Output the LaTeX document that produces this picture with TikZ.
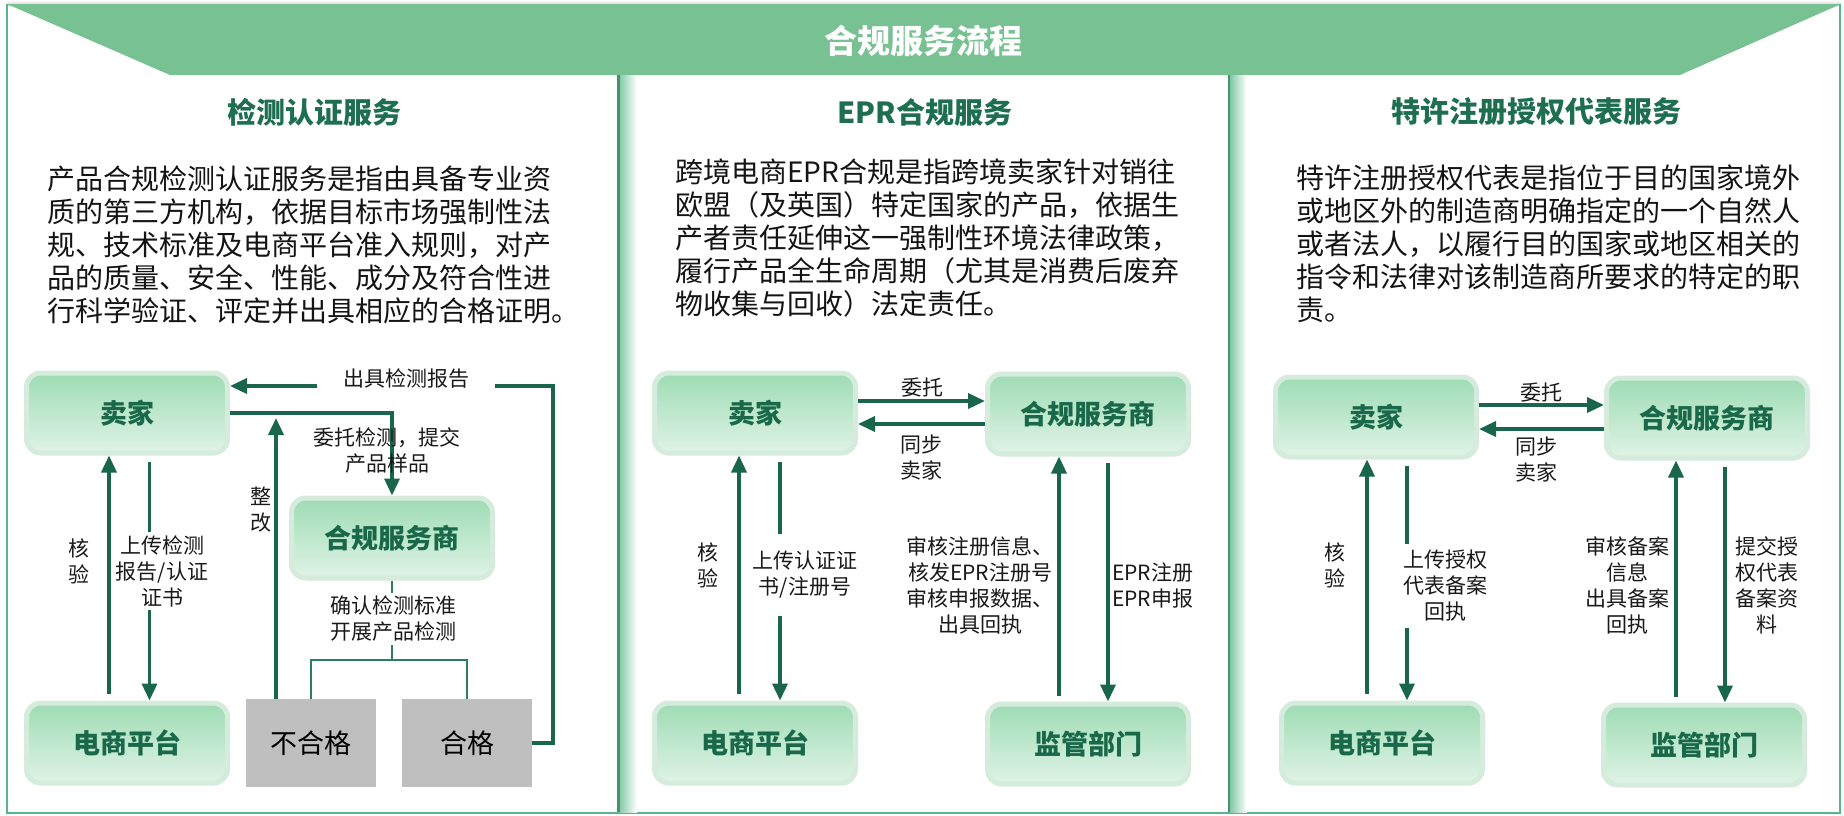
\documentclass[tikz,border=0pt]{standalone}
\usepackage{fontspec}
\setmainfont{Noto Sans CJK SC}
\usetikzlibrary{arrows.meta}
\definecolor{bannerc}{RGB}{120,193,146}
\definecolor{panelline}{RGB}{88,183,137}
\definecolor{titlegreen}{RGB}{30,110,80}
\definecolor{nodegreen}{RGB}{26,104,74}
\definecolor{arrowc}{RGB}{25,102,76}
\definecolor{boxtop}{RGB}{158,220,180}
\definecolor{boxbot}{RGB}{224,243,231}
\definecolor{boxborder}{RGB}{213,236,221}
\definecolor{grayfill}{RGB}{191,191,191}
\definecolor{brline}{RGB}{45,125,95}
\begin{document}
\begin{tikzpicture}[x=1pt,y=-1pt,
  box/.style={rounded corners=14pt, draw=boxborder, line width=5pt, top color=boxtop, bottom color=boxbot, minimum width=201pt, minimum height=80pt, inner sep=0pt, text=nodegreen, font=\fontsize{27}{30}\selectfont\bfseries},
  graybox/.style={fill=grayfill, minimum width=130pt, minimum height=88pt, inner sep=0pt, font=\fontsize{27}{30}\selectfont},
  arr/.style={draw=arrowc, line width=3.5pt, -{Triangle[length=17pt,width=15pt]}},
  brl/.style={draw=brline, line width=2pt},
  lab/.style={font=\fontsize{21}{26}\selectfont, align=center, inner sep=1pt, text=black!90},
  labw/.style={lab, fill=white},
  para/.style={font=\fontsize{28}{33}\selectfont, align=left, anchor=north west, inner sep=0pt, text=black!92},
  ptitle/.style={font=\fontsize{29}{32}\selectfont\bfseries, text=titlegreen},
]
\useasboundingbox (0,0) rectangle (1844,815);
\fill[white] (0,0) rectangle (1844,815);
% top shadow and banner
\shade[top color=white, bottom color=black!18] (7,0) rectangle (1841,5);
\fill[bannerc] (7,4) -- (1841,4) -- (1680,75) -- (170,75) -- cycle;
\node[font=\fontsize{33}{36}\selectfont\bfseries, text=white] (maintitle) at (923,41) {合规服务流程};
% panel frame
\draw[panelline, line width=2.5pt] (7,4) -- (7,813) -- (1840,813) -- (1840,4);
\shade[left color=panelline!75, right color=white] (619,75) rectangle (637,812);
\draw[panelline!80!black, line width=3pt] (618,75) -- (618,812);
\shade[left color=panelline!75, right color=white] (1230,75) rectangle (1247,812);
\draw[panelline!80!black, line width=2.5pt] (1229,75) -- (1229,812);
% panel titles
\node[ptitle] (t1) at (314,112) {检测认证服务};
\node[ptitle] (t2) at (925,112) {EPR合规服务};
\node[ptitle] (t3) at (1536,112) {特许注册授权代表服务};
% paragraphs
\node[para] (d1) at (47,166) {产品合规检测认证服务是指由具备专业资\\质的第三方机构，依据目标市场强制性法\\规、技术标准及电商平台准入规则，对产\\品的质量、安全、性能、成分及符合性进\\行科学验证、评定并出具相应的合格证明。};
\node[para] (d2) at (675,159) {跨境电商EPR合规是指跨境卖家针对销往\\欧盟（及英国）特定国家的产品，依据生\\产者责任延伸这一强制性环境法律政策，\\履行产品全生命周期（尤其是消费后废弃\\物收集与回收）法定责任。};
\node[para] (d3) at (1296,165) {特许注册授权代表是指位于目的国家境外\\或地区外的制造商明确指定的一个自然人\\或者法人，以履行目的国家或地区相关的\\指令和法律对该制造商所要求的特定的职\\责。};

% ---------- panel 1 ----------
\node[box] (p1s) at (127,413) {卖家};
\node[box] (p1e) at (127,743) {电商平台};
\node[box] (p1c) at (392,538) {合规服务商};
\node[graybox] (p1n) at (311,743) {不合格};
\node[graybox] (p1y) at (467,743) {合格};
\coordinate (p1z) at (276,418);
\coordinate (p1b) at (392,660);
\draw[arr] (p1y.east) -| (553,386) -- ([yshift=27pt]p1s.east);
\node[labw, inner xsep=26pt, inner ysep=6pt] (l1a) at (406,379) {出具检测报告};
\draw[arr] (p1s.east) -| (p1c.north);
\node[lab] (l1b) at (387,450) {委托检测，提交\\产品样品};
\draw[arr] ([xshift=-35pt]p1n.north) -- (p1z);
\node[lab] (l1c) at (261,510) {整\\改};
\draw[arr, shorten <=7pt] ([xshift=-18pt]p1e.north) -- ([xshift=-18pt]p1e.north |- p1s.south);
\node[lab] (l1d) at (79,561) {核\\验};
\draw[arr, shorten <=6pt] ([xshift=22.5pt]p1s.south) -- ([xshift=22.5pt]p1s.south |- p1e.north);
\node[labw, inner ysep=3pt] (l1e) at (162,571) {上传检测\\报告/认证\\证书};
\draw[brl] (p1c.south) -- (p1b);
\draw[brl] (p1n.north) |- (p1b) -| (p1y.north);
\node[labw, inner ysep=3pt] (l1f) at (393,619) {确认检测标准\\开展产品检测};

% ---------- panel 2 ----------
\node[box] (p2s) at (755,413) {卖家};
\node[box] (p2c) at (1088,414) {合规服务商};
\node[box] (p2e) at (755,743) {电商平台};
\node[box] (p2m) at (1088,744) {监管部门};
\draw[arr] ([yshift=12pt]p2s.east) -- ([yshift=12pt]p2s.east -| p2c.west);
\node[lab] (l2a) at (922,388) {委托};
\draw[arr] ([yshift=-10pt]p2c.west) -- ([yshift=-10pt]p2c.west -| p2s.east);
\node[lab] (l2b) at (921,458) {同步\\卖家};
\draw[arr, shorten <=7pt] ([xshift=-16pt]p2e.north) -- ([xshift=-16pt]p2e.north |- p2s.south);
\node[lab] (l2c) at (708,565) {核\\验};
\draw[arr, shorten <=6pt] ([xshift=25pt]p2s.south) -- ([xshift=25pt]p2s.south |- p2e.north);
\node[labw, inner ysep=17pt] (l2d) at (805,575) {上传认证证\\书/注册号};
\draw[arr, shorten <=6pt] ([xshift=-29pt]p2m.north) -- ([xshift=-29pt]p2m.north |- p2c.south);
\node[lab] (l2e) at (980,585) {审核注册信息、\\核发EPR注册号\\审核申报数据、\\出具回执};
\draw[arr, shorten <=6pt] ([xshift=20pt]p2c.south) -- ([xshift=20pt]p2c.south |- p2m.north);
\node[lab, align=left, anchor=west] (l2f) at (1111,585) {EPR注册\\EPR申报};

% ---------- panel 3 ----------
\node[box] (p3s) at (1376,417) {卖家};
\node[box] (p3c) at (1707,418) {合规服务商};
\node[box] (p3e) at (1382,743) {电商平台};
\node[box] (p3m) at (1704,745) {监管部门};
\draw[arr] ([yshift=12pt]p3s.east) -- ([yshift=12pt]p3s.east -| p3c.west);
\node[lab] (l3a) at (1541,393) {委托};
\draw[arr] ([yshift=-11pt]p3c.west) -- ([yshift=-11pt]p3c.west -| p3s.east);
\node[lab] (l3b) at (1536,460) {同步\\卖家};
\draw[arr, shorten <=7pt] ([xshift=-15pt]p3e.north) -- ([xshift=-15pt]p3e.north |- p3s.south);
\node[lab] (l3c) at (1335,565) {核\\验};
\draw[arr, shorten <=6pt] ([xshift=31pt]p3s.south) -- ([xshift=31pt]p3s.south |- p3e.north);
\node[labw, inner ysep=6pt] (l3d) at (1445,586) {上传授权\\代表备案\\回执};
\draw[arr, shorten <=6pt] ([xshift=-28pt]p3m.north) -- ([xshift=-28pt]p3m.north |- p3c.south);
\node[lab] (l3e) at (1627,585) {审核备案\\信息\\出具备案\\回执};
\draw[arr, shorten <=6pt] ([xshift=18pt]p3c.south) -- ([xshift=18pt]p3c.south |- p3m.north);
\node[lab] (l3f) at (1767,585) {提交授\\权代表\\备案资\\料};
\end{tikzpicture}
\end{document}
